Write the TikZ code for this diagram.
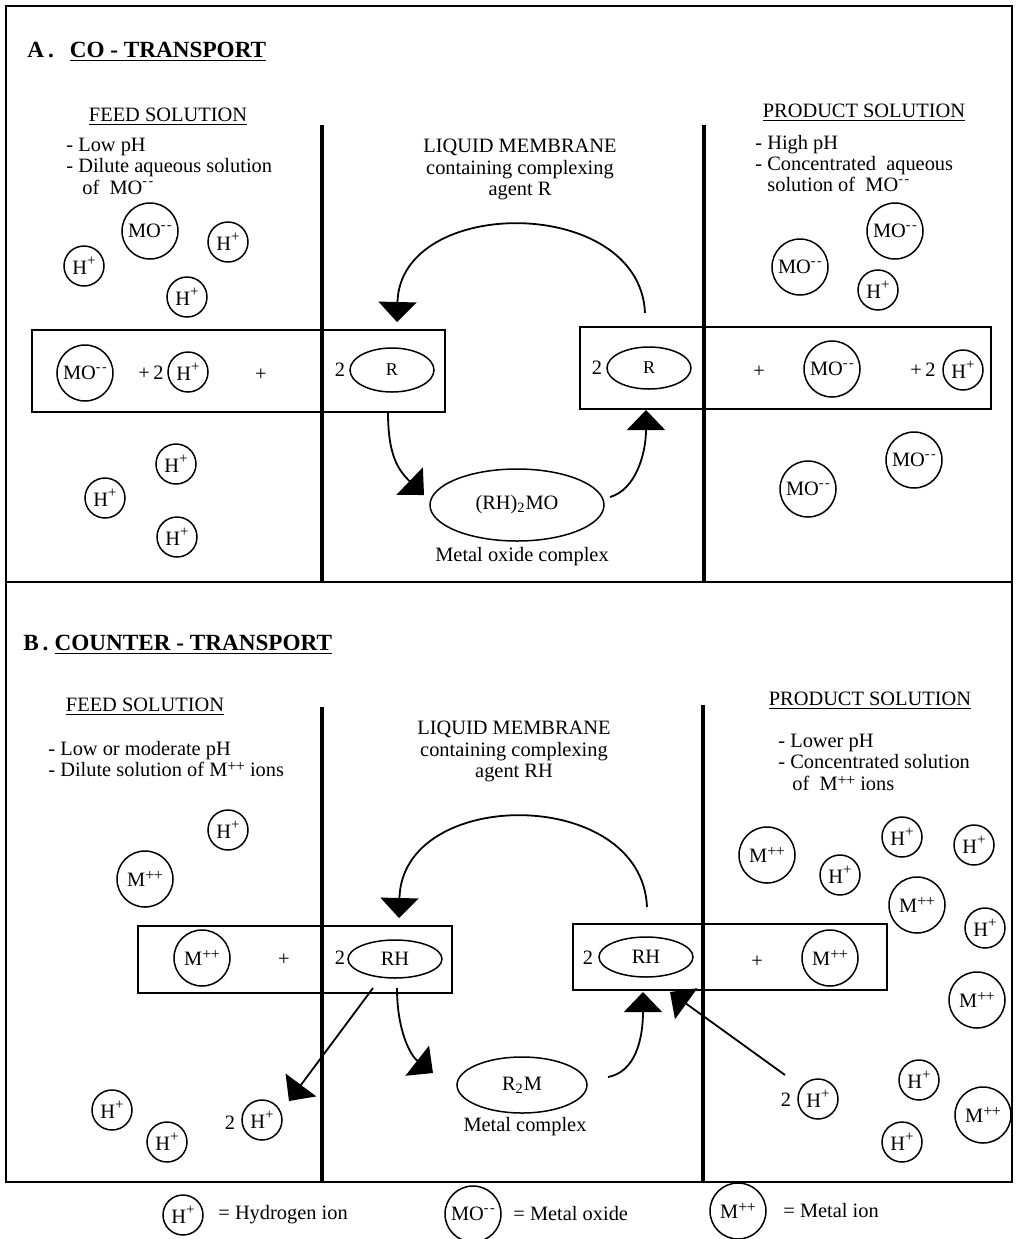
\documentclass[tikz,border=0pt]{standalone}
\usepackage{fontspec}
\setmainfont{Liberation Serif}
\usetikzlibrary{arrows.meta,shapes.geometric}

\newcommand{\Hp}{H\raisebox{0.42em}{\fontsize{7.5}{7.5}\selectfont +}}
\newcommand{\MOm}{MO\raisebox{0.42em}{\fontsize{7}{7}\selectfont -\kern0.8pt-}}
\newcommand{\Mpp}{M\raisebox{0.25em}{\fontsize{8}{8}\selectfont +\kern-0.3pt+}}

\begin{document}
\begin{tikzpicture}[x=0.5pt,y=-0.5pt,
  txt/.style={font=\fontsize{10.2}{10.6}\selectfont, inner sep=0pt},
  heading/.style={font=\fontsize{11.6}{13}\selectfont\bfseries, inner sep=0pt},
  hion/.style={draw, circle, line width=0.75pt, minimum size=20pt, inner sep=0pt, font=\fontsize{10.2}{12}\selectfont},
  bigion/.style={hion, minimum size=28pt},
  agent/.style={draw, ellipse, line width=0.75pt, inner sep=0pt, font=\fontsize{10.2}{12}\selectfont},
  eqbox/.style={line width=0.8pt},
  membrane/.style={line width=1.7pt},
  frame/.style={line width=1pt},
  flow/.style={line width=0.9pt, -{Triangle[width=19pt,length=10pt]}}]
\useasboundingbox (0,0) rectangle (1021,1239);

% frame
\draw[frame] (6,6) rectangle (1012,1182);
\draw[frame] (6,582) -- (1012,582);

% A. co-transport
\node[heading, anchor=base west] (titleA) at (27,57) {A\,.\hspace{8pt}\underline{CO - TRANSPORT}};
\node[txt, anchor=base] (feedA) at (168,121) {\underline{FEED SOLUTION}};
\node[txt, anchor=north west, align=left] (feedAtxt) at (66,138) {- Low pH\\- Dilute aqueous solution\\\hspace*{8pt}of\ \ \MOm};
\node[txt, anchor=north, align=center] (memA) at (520,139) {LIQUID MEMBRANE\\containing complexing\\agent R};
\node[txt, anchor=base] (prodA) at (864,117) {\underline{PRODUCT SOLUTION}};
\node[txt, anchor=north west, align=left] (prodAtxt) at (755,135) {- High pH\\- Concentrated\ \ aqueous\\\hspace*{6pt}solution of\ \ \MOm};
\draw[membrane] (322,125) -- (322,582);
\draw[membrane] (704,125) -- (704,582);

\node[bigion] (moA1) at (150,231) {\MOm};
\node[hion] (hA1) at (84,266) {\Hp};
\node[hion] (hA2) at (228,242) {\Hp};
\node[hion] (hA3) at (187,297) {\Hp};
\node[bigion] (moA2) at (895,231) {\MOm};
\node[bigion] (moA3) at (800,267) {\MOm};
\node[hion] (hA4) at (878,290) {\Hp};

\draw[eqbox] (32,330) rectangle (445,412);
\draw[eqbox] (580,327) rectangle (991,409);
\node[bigion] (moA4) at (85,373) {\MOm};
\node[txt] (plusA1) at (151,373) {+\,2};
\node[hion] (hA5) at (188,372) {\Hp};
\node[txt] (plusA2) at (261,375) {+};
\node[txt] (twoA1) at (340,370) {2};
\node[agent, minimum width=42pt, minimum height=22pt, font=\fontsize{9}{11}\selectfont] (rA1) at (392,370) {R};
\node[txt] (twoA2) at (597,368) {2};
\node[agent, minimum width=42pt, minimum height=21pt, font=\fontsize{9}{11}\selectfont] (rA2) at (649,368) {R};
\node[txt] (plusA3) at (759,372) {+};
\node[bigion] (moA5) at (832,369) {\MOm};
\node[txt] (plusA4) at (923,370) {+\,2};
\node[hion] (hA6) at (963,370) {\Hp};

\node[agent, minimum width=87pt, minimum height=36pt] (cxA) at (517,505) {(RH)\textsubscript{2}MO};
\node[txt] (cxAlbl) at (522,557) {Metal oxide complex};

\node[hion] (hA7) at (176,464) {\Hp};
\node[hion] (hA8) at (105,498) {\Hp};
\node[hion] (hA9) at (177,537) {\Hp};
\node[bigion] (moA6) at (914,460) {\MOm};
\node[bigion] (moA7) at (808,489) {\MOm};

\coordinate (retA) at (645,313);
\coordinate (inA) at (397,322);
\coordinate (outA) at (388,412);
\coordinate (tipA) at (424,495);
\coordinate (backA) at (610,497);
\coordinate (upA) at (646,410);
\draw[flow] (retA) .. controls (640,195) and (400,195) .. (inA);
\draw[flow] (outA) .. controls (388,455) and (398,470) .. (tipA);
\draw[flow] (backA) .. controls (635,490) and (646,455) .. (upA);

% B. counter-transport
\node[heading, anchor=base west] (titleB) at (23,650) {B\,.\hspace{3pt}\underline{COUNTER - TRANSPORT}};
\node[txt, anchor=base] (feedB) at (145,711) {\underline{FEED SOLUTION}};
\node[txt, anchor=north west, align=left] (feedBtxt) at (48,741) {- Low or moderate pH\\- Dilute solution of \Mpp\ ions};
\node[txt, anchor=north, align=center] (memB) at (514,721) {LIQUID MEMBRANE\\containing complexing\\agent RH};
\node[txt, anchor=base] (prodB) at (870,705) {\underline{PRODUCT SOLUTION}};
\node[txt, anchor=north west, align=left] (prodBtxt) at (778,734) {- Lower pH\\- Concentrated solution\\\hspace*{7pt}of\ \ \Mpp\ ions};
\draw[membrane] (322,707) -- (322,1182);
\draw[membrane] (703,705) -- (703,1182);

\node[hion] (hB1) at (228,830) {\Hp};
\node[bigion] (mB1) at (145,879) {\Mpp};
\node[bigion] (mB2) at (767,855) {\Mpp};
\node[hion] (hB2) at (840,875) {\Hp};
\node[hion] (hB3) at (902,837) {\Hp};
\node[hion] (hB4) at (974,845) {\Hp};
\node[bigion] (mB3) at (917,905) {\Mpp};
\node[hion] (hB5) at (985,928) {\Hp};
\node[bigion] (mB4) at (977,1000) {\Mpp};
\node[hion] (hB6) at (919,1080) {\Hp};
\node[bigion] (mB5) at (983,1115) {\Mpp};
\node[hion] (hB7) at (902,1142) {\Hp};

\draw[eqbox] (138,926) rectangle (452,993);
\draw[eqbox] (573,924) rectangle (887,990);
\node[bigion] (mB6) at (202,958) {\Mpp};
\node[txt] (plusB1) at (284,960) {+};
\node[txt] (twoB1) at (340,958) {2};
\node[agent, minimum width=47pt, minimum height=19pt] (rhB1) at (395,959) {RH};
\node[txt] (twoB2) at (588,958) {2};
\node[agent, minimum width=47pt, minimum height=20pt] (rhB2) at (646,957) {RH};
\node[txt] (plusB2) at (757,962) {+};
\node[bigion] (mB7) at (830,958) {\Mpp};

\node[agent, minimum width=65pt, minimum height=28pt] (cxB) at (522,1085) {R\textsubscript{2}M};
\node[txt] (cxBlbl) at (525,1127) {Metal complex};

\node[hion] (hB8) at (112,1110) {\Hp};
\node[hion] (hB9) at (167,1142) {\Hp};
\node[txt] (twoB3) at (230,1123) {2};
\node[hion] (hB10) at (262,1120) {\Hp};
\node[txt] (twoB4) at (786,1100) {2};
\node[hion] (hB11) at (818,1099) {\Hp};

\coordinate (retB) at (647,907);
\coordinate (inB) at (399,918);
\coordinate (relB) at (373,988);
\coordinate (relBtip) at (289,1101);
\coordinate (outB) at (397,988);
\coordinate (tipB) at (433,1073);
\coordinate (backB) at (608,1077);
\coordinate (upB) at (643,992);
\coordinate (takeB) at (785,1075);
\coordinate (takeBtip) at (670,992);
\draw[flow] (retB) .. controls (642,786) and (402,786) .. (inB);
\draw[flow] (relB) -- (relBtip);
\draw[flow] (outB) .. controls (397,1030) and (410,1055) .. (tipB);
\draw[flow] (backB) .. controls (635,1072) and (643,1040) .. (upB);
\draw[flow] (takeB) -- (takeBtip);

% key
\node[hion] (keyH) at (183,1215) {\Hp};
\node[txt, anchor=west] (keyHtxt) at (218,1215) {= Hydrogen ion};
\node[bigion] (keyMO) at (473,1214) {\MOm};
\node[txt, anchor=west] (keyMOtxt) at (513,1214) {= Metal oxide};
\node[bigion] (keyM) at (738,1211) {\Mpp};
\node[txt, anchor=west] (keyMtxt) at (783,1211) {= Metal ion};
\end{tikzpicture}
\end{document}
